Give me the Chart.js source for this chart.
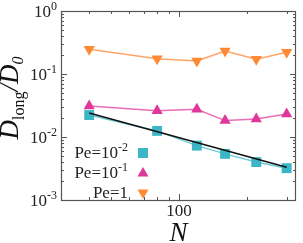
<!DOCTYPE html>
<html>
<head>
<meta charset="utf-8">
<script src="https://cdn.jsdelivr.net/npm/chart.js@4"></script>
<style>
  html, body { margin: 0; padding: 0; background: #fff; }
  #wrap { width: 303px; height: 243px; position: relative; }
</style>
</head>
<body>
<div id="wrap"><canvas id="myChart"></canvas></div>
<script>
// values
const nValues = [40, 80, 120, 160, 220, 300];
const pe001 = [0.0223, 0.0125, 0.0073, 0.0054, 0.0040, 0.0032];
const pe01 = [0.031, 0.026, 0.0275, 0.0182, 0.0193, 0.0232];
const pe1 = [0.247, 0.175, 0.161, 0.232, 0.171, 0.221];
// black guide line
const fitN = [40, 300];
const fitD = [0.024, 0.0033];

const seriesNames = ["Pe=10", "Pe=10", "Pe=1"];
const seriesExp = ["-2", "-1", ""];

const yTickValues = [1, 0.1, 0.01, 0.001];
const yTickExp = ["0", "-1", "-2", "-3"];
const xTickValues = [100];
const xTickLabels = ["100"];

const serif = "'Liberation Serif', 'Times New Roman', serif";

function pts(xs, ys) {
  return xs.map((x, i) => ({ x: x, y: ys[i] }));
}

function textSup(ctx, base, sup, x, y, align, size) {
  ctx.font = size + "px " + serif;
  let wb = ctx.measureText(base).width;
  ctx.font = Math.round(size * 0.68) + "px " + serif;
  let ws = ctx.measureText(sup).width;
  let start = align === "right" ? x - wb - ws : x;
  ctx.textAlign = "left";
  ctx.font = size + "px " + serif;
  ctx.fillText(base, start, y);
  ctx.font = Math.round(size * 0.68) + "px " + serif;
  ctx.fillText(sup, start + wb, y - size * 0.38);
}

const decor = {
  id: "decor",
  afterDraw(chart) {
    const ctx = chart.ctx;
    const a = chart.chartArea;
    const xs = chart.scales.x, ys = chart.scales.y;
    ctx.save();
    ctx.strokeStyle = "#555";
    ctx.lineWidth = 1.2;
    ctx.strokeRect(a.left + 0.5, a.top + 0.5, a.right - a.left - 1, a.bottom - a.top);

    // y ticks, both sides
    ctx.lineWidth = 1;
    for (let d = -3; d < 0; d++) {
      for (let m = 1; m < 10; m++) {
        let v = m * Math.pow(10, d);
        let py = Math.round(ys.getPixelForValue(v)) + 0.5;
        let len = m === 1 ? 6 : 3;
        ctx.beginPath();
        ctx.moveTo(a.left, py); ctx.lineTo(a.left + len, py);
        ctx.moveTo(a.right, py); ctx.lineTo(a.right - len, py);
        ctx.stroke();
      }
    }
    // x ticks, top and bottom
    const xMinor = [40, 50, 60, 70, 80, 90, 100, 200, 300];
    xMinor.forEach(v => {
      let px = Math.round(xs.getPixelForValue(v)) + 0.5;
      let len = v === 100 ? 6 : 3;
      ctx.beginPath();
      ctx.moveTo(px, a.bottom); ctx.lineTo(px, a.bottom - len);
      ctx.moveTo(px, a.top); ctx.lineTo(px, a.top + len);
      ctx.stroke();
    });

    // tick labels
    ctx.fillStyle = "#222";
    ctx.textBaseline = "middle";
    yTickValues.forEach((v, i) => {
      textSup(ctx, "10", yTickExp[i], 57, ys.getPixelForValue(v) + 2, "right", 17);
    });
    xTickValues.forEach((v, i) => {
      ctx.font = "17px " + serif;
      ctx.textAlign = "center";
      ctx.fillText(xTickLabels[i], xs.getPixelForValue(v), 212);
    });

    // axis titles
    ctx.fillStyle = "#111";
    ctx.font = "italic 27px " + serif;
    ctx.textAlign = "center";
    ctx.textBaseline = "alphabetic";
    ctx.fillText("N", (a.left + a.right) / 2, 241);

    ctx.translate(18, 98);
    ctx.rotate(-Math.PI / 2);
    const parts = [
      { t: "D", f: "italic 27px " + serif, dy: 0 },
      { t: "long", f: "16px " + serif, dy: 6 },
      { t: "/", f: "italic 27px " + serif, dy: 0 },
      { t: "D", f: "italic 27px " + serif, dy: 0 },
      { t: "0", f: "italic 16px " + serif, dy: 5 }
    ];
    let total = 0;
    parts.forEach(p => { ctx.font = p.f; p.w = ctx.measureText(p.t).width; total += p.w; });
    let cx = -total / 2;
    ctx.textAlign = "left";
    parts.forEach(p => { ctx.font = p.f; ctx.fillText(p.t, cx, p.dy); cx += p.w; });
    ctx.restore();

    // legend
    ctx.save();
    ctx.fillStyle = "#222";
    ctx.textBaseline = "middle";
    const rows = [153, 173, 193];
    const sets = [0, 1, 2].map(i => chart.data.datasets[i]);
    sets.forEach((ds, i) => {
      textSup(ctx, seriesNames[i], seriesExp[i], 128, rows[i] + 1, "right", 17);
      ctx.fillStyle = ds.pointBackgroundColor;
      let mx = 143, my = rows[i];
      ctx.beginPath();
      if (ds.pointStyle === "rect") {
        ctx.rect(mx - 5, my - 5, 10, 10);
      } else if (ds.pointRotation === 180) {
        ctx.moveTo(mx - 5.5, my - 3.5); ctx.lineTo(mx + 5.5, my - 3.5); ctx.lineTo(mx, my + 6);
      } else {
        ctx.moveTo(mx - 5.5, my + 3.5); ctx.lineTo(mx + 5.5, my + 3.5); ctx.lineTo(mx, my - 6);
      }
      ctx.fill();
      ctx.fillStyle = "#222";
    });
    ctx.restore();
  }
};

new Chart(document.getElementById("myChart"), {
  type: "line",
  data: {
    datasets: [
      {
        label: "Pe=10^-2",
        data: pts(nValues, pe001),
        borderColor: "#6ccbd6",
        borderWidth: 1.5,
        pointStyle: "rect",
        pointRadius: 7,
        pointBackgroundColor: "#3bb6c6",
        pointBorderWidth: 0,
        order: 3
      },
      {
        label: "Pe=10^-1",
        data: pts(nValues, pe01),
        borderColor: "#ea6cb4",
        borderWidth: 1.5,
        pointStyle: "triangle",
        pointRadius: 6.5,
        pointBackgroundColor: "#e0379b",
        pointBorderWidth: 0,
        order: 2
      },
      {
        label: "Pe=1",
        data: pts(nValues, pe1),
        borderColor: "#ffa466",
        borderWidth: 1.5,
        pointStyle: "triangle",
        pointRotation: 180,
        pointRadius: 6.5,
        pointBackgroundColor: "#ff8a35",
        pointBorderWidth: 0,
        order: 1
      },
      {
        label: "fit",
        data: pts(fitN, fitD),
        borderColor: "#111",
        borderWidth: 1.5,
        pointRadius: 0,
        order: 0
      }
    ]
  },
  options: {
    responsive: true,
    maintainAspectRatio: false,
    animation: false,
    layout: { padding: { left: 61, top: 11, right: 1, bottom: 43 } },
    plugins: { legend: { display: false }, tooltip: { enabled: false } },
    scales: {
      x: { type: "logarithmic", min: 30, max: 330, display: false },
      y: { type: "logarithmic", min: 0.001, max: 1, display: false }
    }
  },
  plugins: [decor]
});
</script>
</body>
</html>
